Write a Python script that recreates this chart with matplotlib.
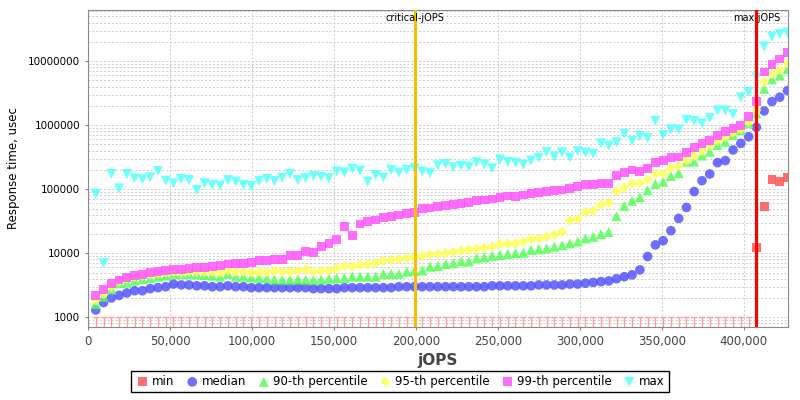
import numpy as np
import matplotlib
matplotlib.use("Agg")
import matplotlib.pyplot as plt
from matplotlib.ticker import FixedLocator, FuncFormatter, LogLocator, NullFormatter

# ---------------- data ----------------
jops = [4741, 9482, 14223, 18964, 23705, 28446, 33187, 37928, 42669, 47410,
        52151, 56892, 61633, 66374, 71115, 75856, 80597, 85338, 90079, 94820,
        99561, 104302, 109043, 113784, 118525, 123266, 128007, 132748, 137489, 142230,
        146971, 151712, 156453, 161194, 165935, 170676, 175417, 180158, 184899, 189640,
        194381, 199122, 203863, 208604, 213345, 218086, 222827, 227568, 232309, 237050,
        241791, 246532, 251273, 256014, 260755, 265496, 270237, 274978, 279719, 284460,
        289201, 293942, 298683, 303424, 308165, 312906, 317647, 322388, 327129, 331870,
        336611, 341352, 346093, 350834, 355575, 360316, 365057, 369798, 374539, 379280,
        384021, 388762, 393503, 398244, 402985, 407726, 412467, 417208, 421949, 426690]

# 0 = below the visible range (drawn as a marker on the floor)
rt_min = [0] * 85 + [12400, 53500, 143000, 131000, 154000]

rt_median = [1300, 1700, 2000, 2200, 2400, 2600, 2600, 2800, 2900, 3000,
             3300, 3200, 3200, 3100, 3100, 3000, 3000, 3100, 3000, 3000,
             2900, 2900, 2900, 2900, 2900, 2900, 2900, 2900, 2800, 2800,
             2800, 2800, 2900, 2900, 2900, 2900, 2900, 2900, 2900, 3000,
             3000, 3000, 3000, 3000, 3000, 3000, 3000, 3000, 3000, 3000,
             3000, 3100, 3100, 3100, 3100, 3100, 3100, 3200, 3200, 3200,
             3200, 3300, 3300, 3400, 3500, 3600, 3700, 4000, 4300, 4600,
             5500, 8900, 13500, 15700, 22500, 35000, 52000, 92000, 136000, 173000,
             260000, 280000, 410000, 520000, 660000, 930000, 1670000, 2340000, 2740000, 3470000]

rt_p90 = [1610, 2100, 2740, 3390, 3470, 3720, 3920, 4070, 4310, 4470,
          4750, 4750, 4700, 4700, 4580, 4470, 4310, 4750, 4310, 4310,
          4200, 4100, 4070, 3900, 3850, 3850, 3900, 3850, 3850, 3900,
          4000, 4070, 4100, 4300, 4300, 4300, 4300, 4750, 4750, 4750,
          5160, 5300, 5400, 6170, 6300, 6740, 7000, 7500, 7400, 8350,
          8600, 9100, 9400, 9750, 10000, 10200, 11300, 11500, 11900, 12700,
          13300, 14300, 15200, 17100, 18100, 20000, 21500, 38000, 55000, 66000,
          75000, 97000, 121000, 131000, 161000, 178000, 270000, 270000, 335000, 385000,
          490000, 550000, 705000, 840000, 1070000, 1530000, 3700000, 5200000, 6000000, 7500000]

rt_p95 = [1860, 2310, 3000, 3600, 3970, 4300, 4470, 4700, 4870, 5000,
          5160, 5000, 5160, 5160, 5160, 5100, 5000, 5350, 5160, 5160,
          5000, 5050, 5050, 5350, 5160, 5160, 5350, 5600, 5160, 5350,
          5350, 5830, 6300, 6200, 6630, 6700, 7000, 7670, 7800, 8100,
          8350, 8850, 9000, 9650, 9800, 10000, 10400, 10900, 11300, 11800,
          12100, 12700, 13800, 14200, 14200, 15200, 16600, 17100, 18100, 19300,
          21700, 32300, 34300, 43700, 46400, 57000, 62000, 94000, 106000, 124000,
          124000, 143000, 173000, 175000, 213000, 232000, 280000, 330000, 395000, 475000,
          570000, 660000, 765000, 870000, 1130000, 1730000, 4770000, 6300000, 7300000, 9300000]

rt_p99 = [2180, 2740, 3390, 3830, 4200, 4500, 4700, 5050, 5160, 5350,
          5600, 5600, 5740, 5960, 5960, 6170, 6400, 6800, 7000, 7000,
          7250, 7600, 7700, 8050, 8100, 9100, 9250, 10600, 10200, 12700,
          14300, 16600, 26000, 18800, 28700, 31600, 33000, 36000, 37300, 39600,
          42000, 43000, 49600, 51000, 53000, 55000, 58000, 60300, 62600, 65800,
          68000, 70600, 74000, 78600, 77000, 81000, 86600, 90000, 92000, 95500,
          97600, 104000, 110000, 117000, 117000, 122000, 124000, 166000, 181000, 200000,
          188000, 213000, 260000, 280000, 310000, 318000, 373000, 454000, 515000, 570000,
          700000, 795000, 880000, 980000, 1370000, 2340000, 6800000, 8800000, 10800000, 13600000]

rt_max = [84500, 7000, 173000, 103000, 173000, 148000, 143000, 154000, 193000, 136000,
          124000, 145000, 139000, 97600, 124000, 117000, 114000, 139000, 131000, 117000,
          112000, 135000, 145000, 134000, 152000, 173000, 139000, 148000, 161000, 157000,
          148000, 189000, 182000, 210000, 194000, 131000, 167000, 152000, 200000, 182000,
          200000, 213000, 189000, 178000, 236000, 249000, 221000, 233000, 225000, 265000,
          242000, 213000, 291000, 267000, 260000, 242000, 280000, 310000, 385000, 323000,
          378000, 312000, 395000, 373000, 357000, 523000, 480000, 540000, 730000, 570000,
          680000, 630000, 1170000, 705000, 860000, 860000, 1210000, 1170000, 1070000, 1290000,
          1690000, 1690000, 1490000, 2740000, 3300000, 5600000, 17000000, 24100000, 26600000, 28100000]

critical_jops = 199400
max_jops = 407700

# ---------------- plot ----------------
fig = plt.figure(figsize=(8, 4), dpi=100)
ax = fig.add_axes([0.11, 0.1825, 0.875, 0.7925])

YMIN, YMAX = 705, 6.3e7
x = np.array(jops)
mn = np.array(rt_min, dtype=float)
low = mn < 1000

# min values below the range: thin marks standing on the floor
ax.vlines(x[low], YMIN, 1000, color="#ff9c9c", lw=1.0, zorder=3)
ax.scatter(x[low], np.full(low.sum(), 1000), marker="_", s=20, color="#ff9c9c",
           linewidths=1.0, zorder=3)

series = [
    ("min", x[~low], mn[~low], "s", "#ff5555"),
    ("median", x, rt_median, "o", "#5555ff"),
    ("90-th percentile", x, rt_p90, "^", "#55ff55"),
    ("95-th percentile", x, rt_p95, "D", "#ffff55"),
    ("99-th percentile", x, rt_p99, "s", "#ff55ff"),
    ("max", x, rt_max, "v", "#55ffff"),
]
sizes = {"o": 48, "^": 52, "D": 28, "s": 40, "v": 52}
for name, xs, ys, mk, col in series:
    ax.scatter(xs, ys, marker=mk, s=sizes[mk], color=col, alpha=0.85,
               edgecolors="none", label=name, zorder=4)

ax.axvline(critical_jops, color="#f5c000", lw=2.2, zorder=5)
ax.axvline(max_jops, color="#ff0000", lw=2.2, zorder=5)
ax.text(critical_jops, 4.8e7, "critical-jOPS", ha="center", va="center", fontsize=7, zorder=6)
ax.text(max_jops, 4.8e7, "max-jOPS", ha="center", va="center", fontsize=7, zorder=6)

ax.set_yscale("log")
ax.set_ylim(YMIN, YMAX)
ax.set_xlim(0, 427000)

ax.yaxis.set_major_locator(FixedLocator([1e3, 1e4, 1e5, 1e6, 1e7]))
ax.yaxis.set_major_formatter(FuncFormatter(lambda v, p: "%d" % v))
ax.yaxis.set_minor_locator(LogLocator(base=10, subs=np.arange(2, 10)))
ax.yaxis.set_minor_formatter(NullFormatter())
ax.xaxis.set_major_locator(FixedLocator(np.arange(0, 400001, 50000)))
ax.xaxis.set_major_formatter(FuncFormatter(lambda v, p: "{:,}".format(int(v))))

ax.grid(True, which="major", axis="both", color="#cccccc", ls=(0, (2, 2)), lw=0.7)
ax.grid(True, which="minor", axis="y", color="#cccccc", ls=(0, (2, 2)), lw=0.7)
ax.set_axisbelow(True)

ax.tick_params(axis="y", which="major", labelsize=7.5, length=2, color="#888888")
ax.tick_params(axis="y", which="minor", length=0)
ax.tick_params(axis="x", labelsize=8.5, length=2, color="#888888", labelcolor="#444444")
for sp in ax.spines.values():
    sp.set_color("#888888")

ax.set_xlabel("jOPS", fontsize=11, fontweight="bold", color="#444444", labelpad=4)
ax.set_ylabel("Response time, usec", fontsize=8.5, labelpad=6)

fig.legend(loc="lower center", bbox_to_anchor=(0.5, 0.005), ncol=6, fontsize=8.5,
           frameon=True, fancybox=False, edgecolor="black", framealpha=1,
           handletextpad=0.2, columnspacing=0.9, borderpad=0.35, handlelength=1.2,
           scatterpoints=1)

fig.savefig("out.png", dpi=100)
